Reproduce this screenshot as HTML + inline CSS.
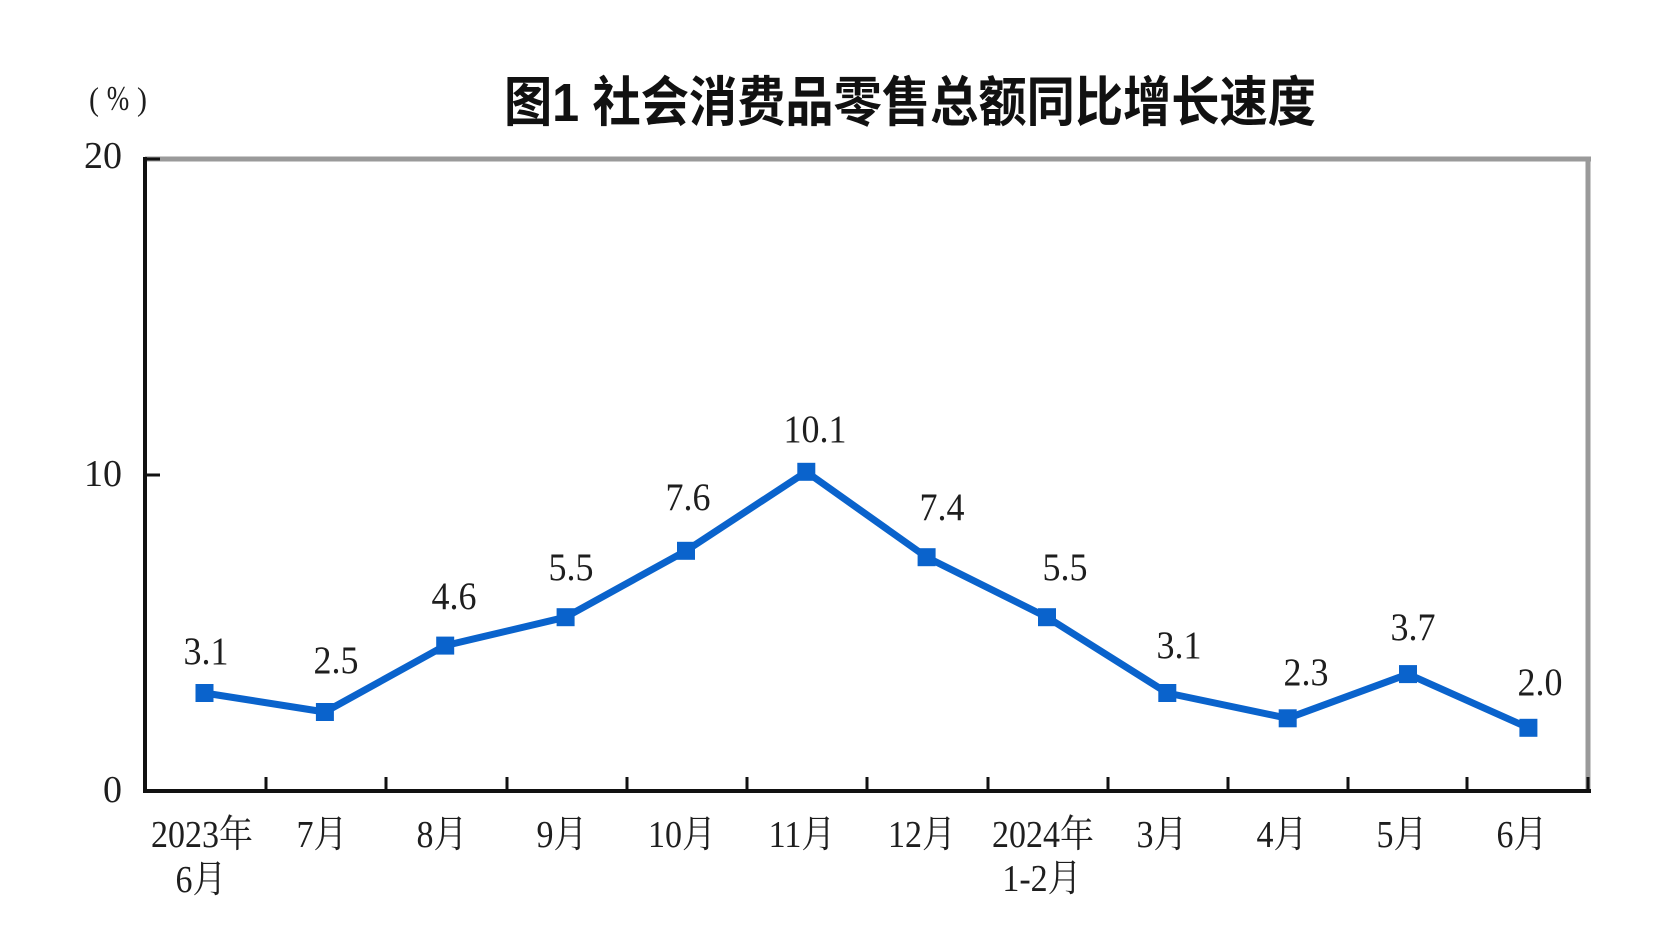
<!DOCTYPE html>
<html>
<head>
<meta charset="utf-8">
<style>
  html, body { margin: 0; padding: 0; background: #ffffff; }
  svg { display: block; }
  .serif { font-family: "Liberation Serif", "Noto Serif CJK SC", serif; fill: #1e1e1e; }
  .title { font-family: "Liberation Sans", "Noto Sans CJK SC", sans-serif; font-weight: bold; fill: #111; }
</style>
</head>
<body>
<svg width="1663" height="937" viewBox="0 0 1663 937" xmlns="http://www.w3.org/2000/svg">
  <rect x="0" y="0" width="1663" height="937" fill="#ffffff"/>

  <!-- Title -->
  <text class="title" x="0" y="0" font-size="45" textLength="812" lengthAdjust="spacingAndGlyphs" transform="translate(504,121) scale(1,1.2)">图1 社会消费品零售总额同比增长速度</text>

  <!-- unit -->
  <g class="serif" font-size="30" text-anchor="middle" fill="#3a3a3a">
    <text x="0" y="0" transform="translate(94,110) scale(1,1.1)">(</text>
    <text x="0" y="0" transform="translate(118,110) scale(0.9,1.15)">%</text>
    <text x="0" y="0" transform="translate(142,110) scale(1,1.1)">)</text>
  </g>

  <!-- frame: top & right gray -->
  <line x1="145" y1="159" x2="1591" y2="159" stroke="#9a9a9a" stroke-width="5"/>
  <line x1="1588" y1="157" x2="1588" y2="791" stroke="#9a9a9a" stroke-width="5"/>

  <!-- axes black -->
  <line x1="145" y1="157" x2="145" y2="793" stroke="#111" stroke-width="4"/>
  <line x1="143" y1="791" x2="1591" y2="791" stroke="#111" stroke-width="4"/>

  <!-- y ticks -->
  <line x1="145" y1="159" x2="160" y2="159" stroke="#111" stroke-width="3"/>
  <line x1="145" y1="475" x2="160" y2="475" stroke="#111" stroke-width="3"/>

  <!-- x ticks -->
  <g stroke="#111" stroke-width="3">
    <line x1="266" y1="777" x2="266" y2="791"/>
    <line x1="386" y1="777" x2="386" y2="791"/>
    <line x1="507" y1="777" x2="507" y2="791"/>
    <line x1="627" y1="777" x2="627" y2="791"/>
    <line x1="747" y1="777" x2="747" y2="791"/>
    <line x1="867" y1="777" x2="867" y2="791"/>
    <line x1="988" y1="777" x2="988" y2="791"/>
    <line x1="1108" y1="777" x2="1108" y2="791"/>
    <line x1="1228" y1="777" x2="1228" y2="791"/>
    <line x1="1348" y1="777" x2="1348" y2="791"/>
    <line x1="1467" y1="777" x2="1467" y2="791"/>
    <line x1="1588" y1="777" x2="1588" y2="791"/>
  </g>

  <!-- y labels -->
  <text class="serif" x="122" y="168" font-size="38" text-anchor="end">20</text>
  <text class="serif" x="122" y="486" font-size="38" text-anchor="end">10</text>
  <text class="serif" x="122" y="802" font-size="38" text-anchor="end">0</text>

  <!-- series line -->
  <polyline fill="none" stroke="#0a63cc" stroke-width="7" stroke-linejoin="round"
    points="204.5,693 324.9,712 445.2,645.6 565.6,617.2 686,550.8 806.3,471.8 926.6,557.2 1047,617.2 1167.3,693 1287.7,718.3 1408,674.1 1528.4,727.8"/>

  <!-- markers -->
  <g fill="#0a63cc">
    <rect x="195.5" y="684" width="18" height="18"/>
    <rect x="315.9" y="703" width="18" height="18"/>
    <rect x="436.2" y="636.6" width="18" height="18"/>
    <rect x="556.6" y="608.2" width="18" height="18"/>
    <rect x="677" y="541.8" width="18" height="18"/>
    <rect x="797.3" y="462.8" width="18" height="18"/>
    <rect x="917.6" y="548.2" width="18" height="18"/>
    <rect x="1038" y="608.2" width="18" height="18"/>
    <rect x="1158.3" y="684" width="18" height="18"/>
    <rect x="1278.7" y="709.3" width="18" height="18"/>
    <rect x="1399" y="665.1" width="18" height="18"/>
    <rect x="1519.4" y="718.8" width="18" height="18"/>
  </g>

  <!-- value labels -->
  <g class="serif" font-size="36" text-anchor="middle">
    <text x="0" y="0" transform="translate(206,664) scale(1,1.1)">3.1</text>
    <text x="0" y="0" transform="translate(336,673) scale(1,1.1)">2.5</text>
    <text x="0" y="0" transform="translate(454,609) scale(1,1.1)">4.6</text>
    <text x="0" y="0" transform="translate(571,580) scale(1,1.1)">5.5</text>
    <text x="0" y="0" transform="translate(688,510) scale(1,1.1)">7.6</text>
    <text x="0" y="0" transform="translate(815,442) scale(1,1.1)">10.1</text>
    <text x="0" y="0" transform="translate(942,520) scale(1,1.1)">7.4</text>
    <text x="0" y="0" transform="translate(1065,580) scale(1,1.1)">5.5</text>
    <text x="0" y="0" transform="translate(1179,658) scale(1,1.1)">3.1</text>
    <text x="0" y="0" transform="translate(1306,685) scale(1,1.1)">2.3</text>
    <text x="0" y="0" transform="translate(1413,640) scale(1,1.1)">3.7</text>
    <text x="0" y="0" transform="translate(1540,695) scale(1,1.1)">2.0</text>
  </g>

  <!-- x labels -->
  <g class="serif" font-size="34" text-anchor="middle">
    <text x="0" y="0" transform="translate(202,847) scale(1,1.12)">2023年</text>
    <text x="0" y="0" transform="translate(201,892) scale(1,1.12)">6月</text>
    <text x="0" y="0" transform="translate(322,847) scale(1,1.12)">7月</text>
    <text x="0" y="0" transform="translate(442,847) scale(1,1.12)">8月</text>
    <text x="0" y="0" transform="translate(562,847) scale(1,1.12)">9月</text>
    <text x="0" y="0" transform="translate(682,847) scale(1,1.12)">10月</text>
    <text x="0" y="0" transform="translate(802,847) scale(1,1.12)">11月</text>
    <text x="0" y="0" transform="translate(922,847) scale(1,1.12)">12月</text>
    <text x="0" y="0" transform="translate(1043,847) scale(1,1.12)">2024年</text>
    <text x="0" y="0" transform="translate(1042,891) scale(1,1.12)">1-2月</text>
    <text x="0" y="0" transform="translate(1162,847) scale(1,1.12)">3月</text>
    <text x="0" y="0" transform="translate(1282,847) scale(1,1.12)">4月</text>
    <text x="0" y="0" transform="translate(1402,847) scale(1,1.12)">5月</text>
    <text x="0" y="0" transform="translate(1522,847) scale(1,1.12)">6月</text>
  </g>
</svg>
</body>
</html>
